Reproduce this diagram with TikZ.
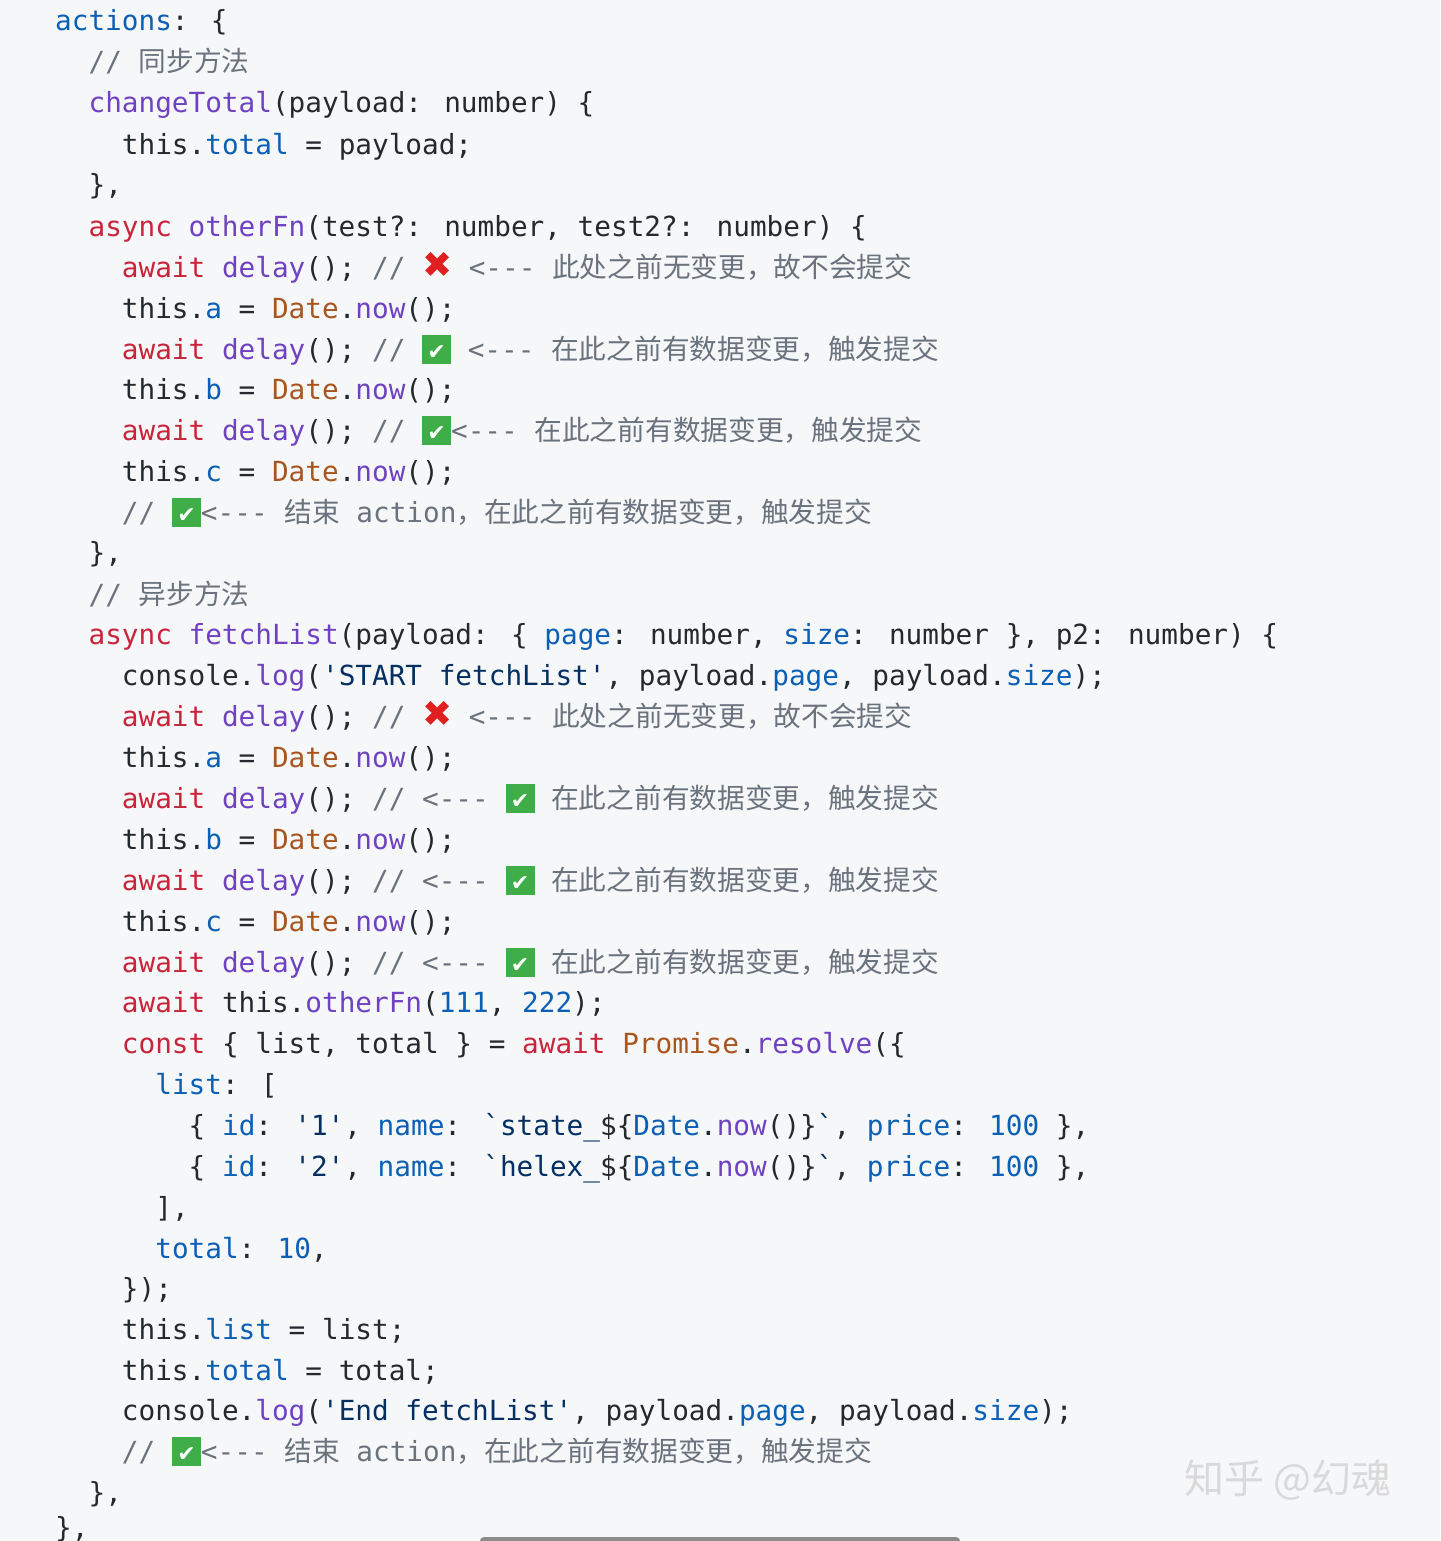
\documentclass[tikz,border=0pt]{standalone}
\usepackage{fontspec}
\newfontfamily\code{DejaVu Sans Mono}
\newfontfamily\cjk{Noto Sans CJK SC}
\newfontfamily\dejavu{DejaVu Sans}
\definecolor{bg}{HTML}{F6F7F9}
\definecolor{kw}{HTML}{C8243A}
\definecolor{fn}{HTML}{6F42C1}
\definecolor{pr}{HTML}{0B5FB5}
\definecolor{og}{HTML}{A8551E}
\definecolor{st}{HTML}{032F62}
\definecolor{cm}{HTML}{6A737D}
\definecolor{tx}{HTML}{24292E}
\definecolor{okgreen}{HTML}{3FAE49}
\definecolor{xred}{HTML}{E0201E}
\newcommand\K[1]{\textcolor{kw}{#1}}
\newcommand\F[1]{\textcolor{fn}{#1}}
\newcommand\Pp[1]{\textcolor{pr}{#1}}
\newcommand\Og[1]{\textcolor{og}{#1}}
\newcommand\Sg[1]{\textcolor{st}{#1}}
\newcommand\Cm[1]{\textcolor{cm}{#1}}
\newcommand\Zh[1]{\textcolor{cm}{\cjk #1}}
\newcommand\OK{\raisebox{-5pt}{\setlength\fboxsep{0pt}\colorbox{okgreen}{\makebox[29pt][c]{\rule{0pt}{29pt}\raisebox{5pt}{\textcolor{white}{\dejavu\fontsize{22}{22}\selectfont ✔}}}}}}
\newcommand\XX{\makebox[30pt][c]{\textcolor{xred}{\dejavu\fontsize{36}{36}\selectfont ✖}}}
\newcommand\OKC{\Zh{在此之前有数据变更，触发提交}}
\tikzset{ln/.style={anchor=base west,inner sep=0pt,text=tx,font=\code\fontsize{27.7}{34}\selectfont}}
\newcommand\Ln[4]{\node[ln] (l#1) at ({(55+#2*16.69)*1pt},{-(#3+10)*1pt}) {#4};}
\begin{document}
\begin{tikzpicture}
\fill[bg] (0,0) rectangle (1440pt,-1541pt);
\useasboundingbox (0,0) rectangle (1440pt,-1541pt);
\Ln{1}{0}{21}{\Pp{actions}: \{}
\Ln{2}{2}{62}{\Cm{//}\ \Zh{同步方法}}
\Ln{3}{2}{103}{\F{changeTotal}(payload: number) \{}
\Ln{4}{4}{145}{this.\Pp{total} = payload;}
\Ln{5}{2}{185}{\},}
\Ln{6}{2}{226}{\K{async} \F{otherFn}(test?: number, test2?: number) \{}
\Ln{7}{4}{267}{\K{await} \F{delay}(); \Cm{//}\ \XX\ \Cm{<---}\ \Zh{此处之前无变更，故不会提交}}
\Ln{8}{4}{308}{this.\Pp{a} = \Og{Date}.\F{now}();}
\Ln{9}{4}{349}{\K{await} \F{delay}(); \Cm{//}\ \OK\ \Cm{<---}\ \OKC}
\Ln{10}{4}{389}{this.\Pp{b} = \Og{Date}.\F{now}();}
\Ln{11}{4}{430}{\K{await} \F{delay}(); \Cm{//}\ \OK\Cm{<---}\ \OKC}
\Ln{12}{4}{471}{this.\Pp{c} = \Og{Date}.\F{now}();}
\Ln{13}{4}{512}{\Cm{//}\ \OK\Cm{<---}\ \Zh{结束}\ \Cm{action}\Zh{，在此之前有数据变更，触发提交}}
\Ln{14}{2}{552}{\},}
\Ln{15}{2}{594}{\Cm{//}\ \Zh{异步方法}}
\Ln{16}{2}{634}{\K{async} \F{fetchList}(payload: \{ \Pp{page}: number, \Pp{size}: number \}, p2: number) \{}
\Ln{17}{4}{675}{console.\F{log}(\Sg{'START fetchList'}, payload.\Pp{page}, payload.\Pp{size});}
\Ln{18}{4}{716}{\K{await} \F{delay}(); \Cm{//}\ \XX\ \Cm{<---}\ \Zh{此处之前无变更，故不会提交}}
\Ln{19}{4}{757}{this.\Pp{a} = \Og{Date}.\F{now}();}
\Ln{20}{4}{798}{\K{await} \F{delay}(); \Cm{// <---}\ \OK\ \OKC}
\Ln{21}{4}{839}{this.\Pp{b} = \Og{Date}.\F{now}();}
\Ln{22}{4}{880}{\K{await} \F{delay}(); \Cm{// <---}\ \OK\ \OKC}
\Ln{23}{4}{921}{this.\Pp{c} = \Og{Date}.\F{now}();}
\Ln{24}{4}{962}{\K{await} \F{delay}(); \Cm{// <---}\ \OK\ \OKC}
\Ln{25}{4}{1002}{\K{await} this.\F{otherFn}(\Pp{111}, \Pp{222});}
\Ln{26}{4}{1043}{\K{const} \{ list, total \} = \K{await} \Og{Promise}.\F{resolve}(\{}
\Ln{27}{6}{1084}{\Pp{list}: [}
\Ln{28}{8}{1125}{\{ \Pp{id}: \Sg{'1'}, \Pp{name}: \Sg{`state\_}\$\{\Pp{Date}.\F{now}()\}\Sg{`}, \Pp{price}: \Pp{100} \},}
\Ln{29}{8}{1166}{\{ \Pp{id}: \Sg{'2'}, \Pp{name}: \Sg{`helex\_}\$\{\Pp{Date}.\F{now}()\}\Sg{`}, \Pp{price}: \Pp{100} \},}
\Ln{30}{6}{1207}{],}
\Ln{31}{6}{1248}{\Pp{total}: \Pp{10},}
\Ln{32}{4}{1288}{\});}
\Ln{33}{4}{1329}{this.\Pp{list} = list;}
\Ln{34}{4}{1370}{this.\Pp{total} = total;}
\Ln{35}{4}{1410}{console.\F{log}(\Sg{'End fetchList'}, payload.\Pp{page}, payload.\Pp{size});}
\Ln{36}{4}{1451}{\Cm{//}\ \OK\Cm{<---}\ \Zh{结束}\ \Cm{action}\Zh{，在此之前有数据变更，触发提交}}
\Ln{37}{2}{1492}{\},}
\Ln{38}{0}{1527}{\},}
\node[anchor=center,text=black!15,font=\cjk\fontsize{40}{40}\selectfont] (wm) at (1288pt,-1480pt) {知乎 @幻魂};
\fill[black!45,rounded corners=4pt] (480pt,-1537pt) rectangle (960pt,-1547pt);
\end{tikzpicture}
\end{document}
